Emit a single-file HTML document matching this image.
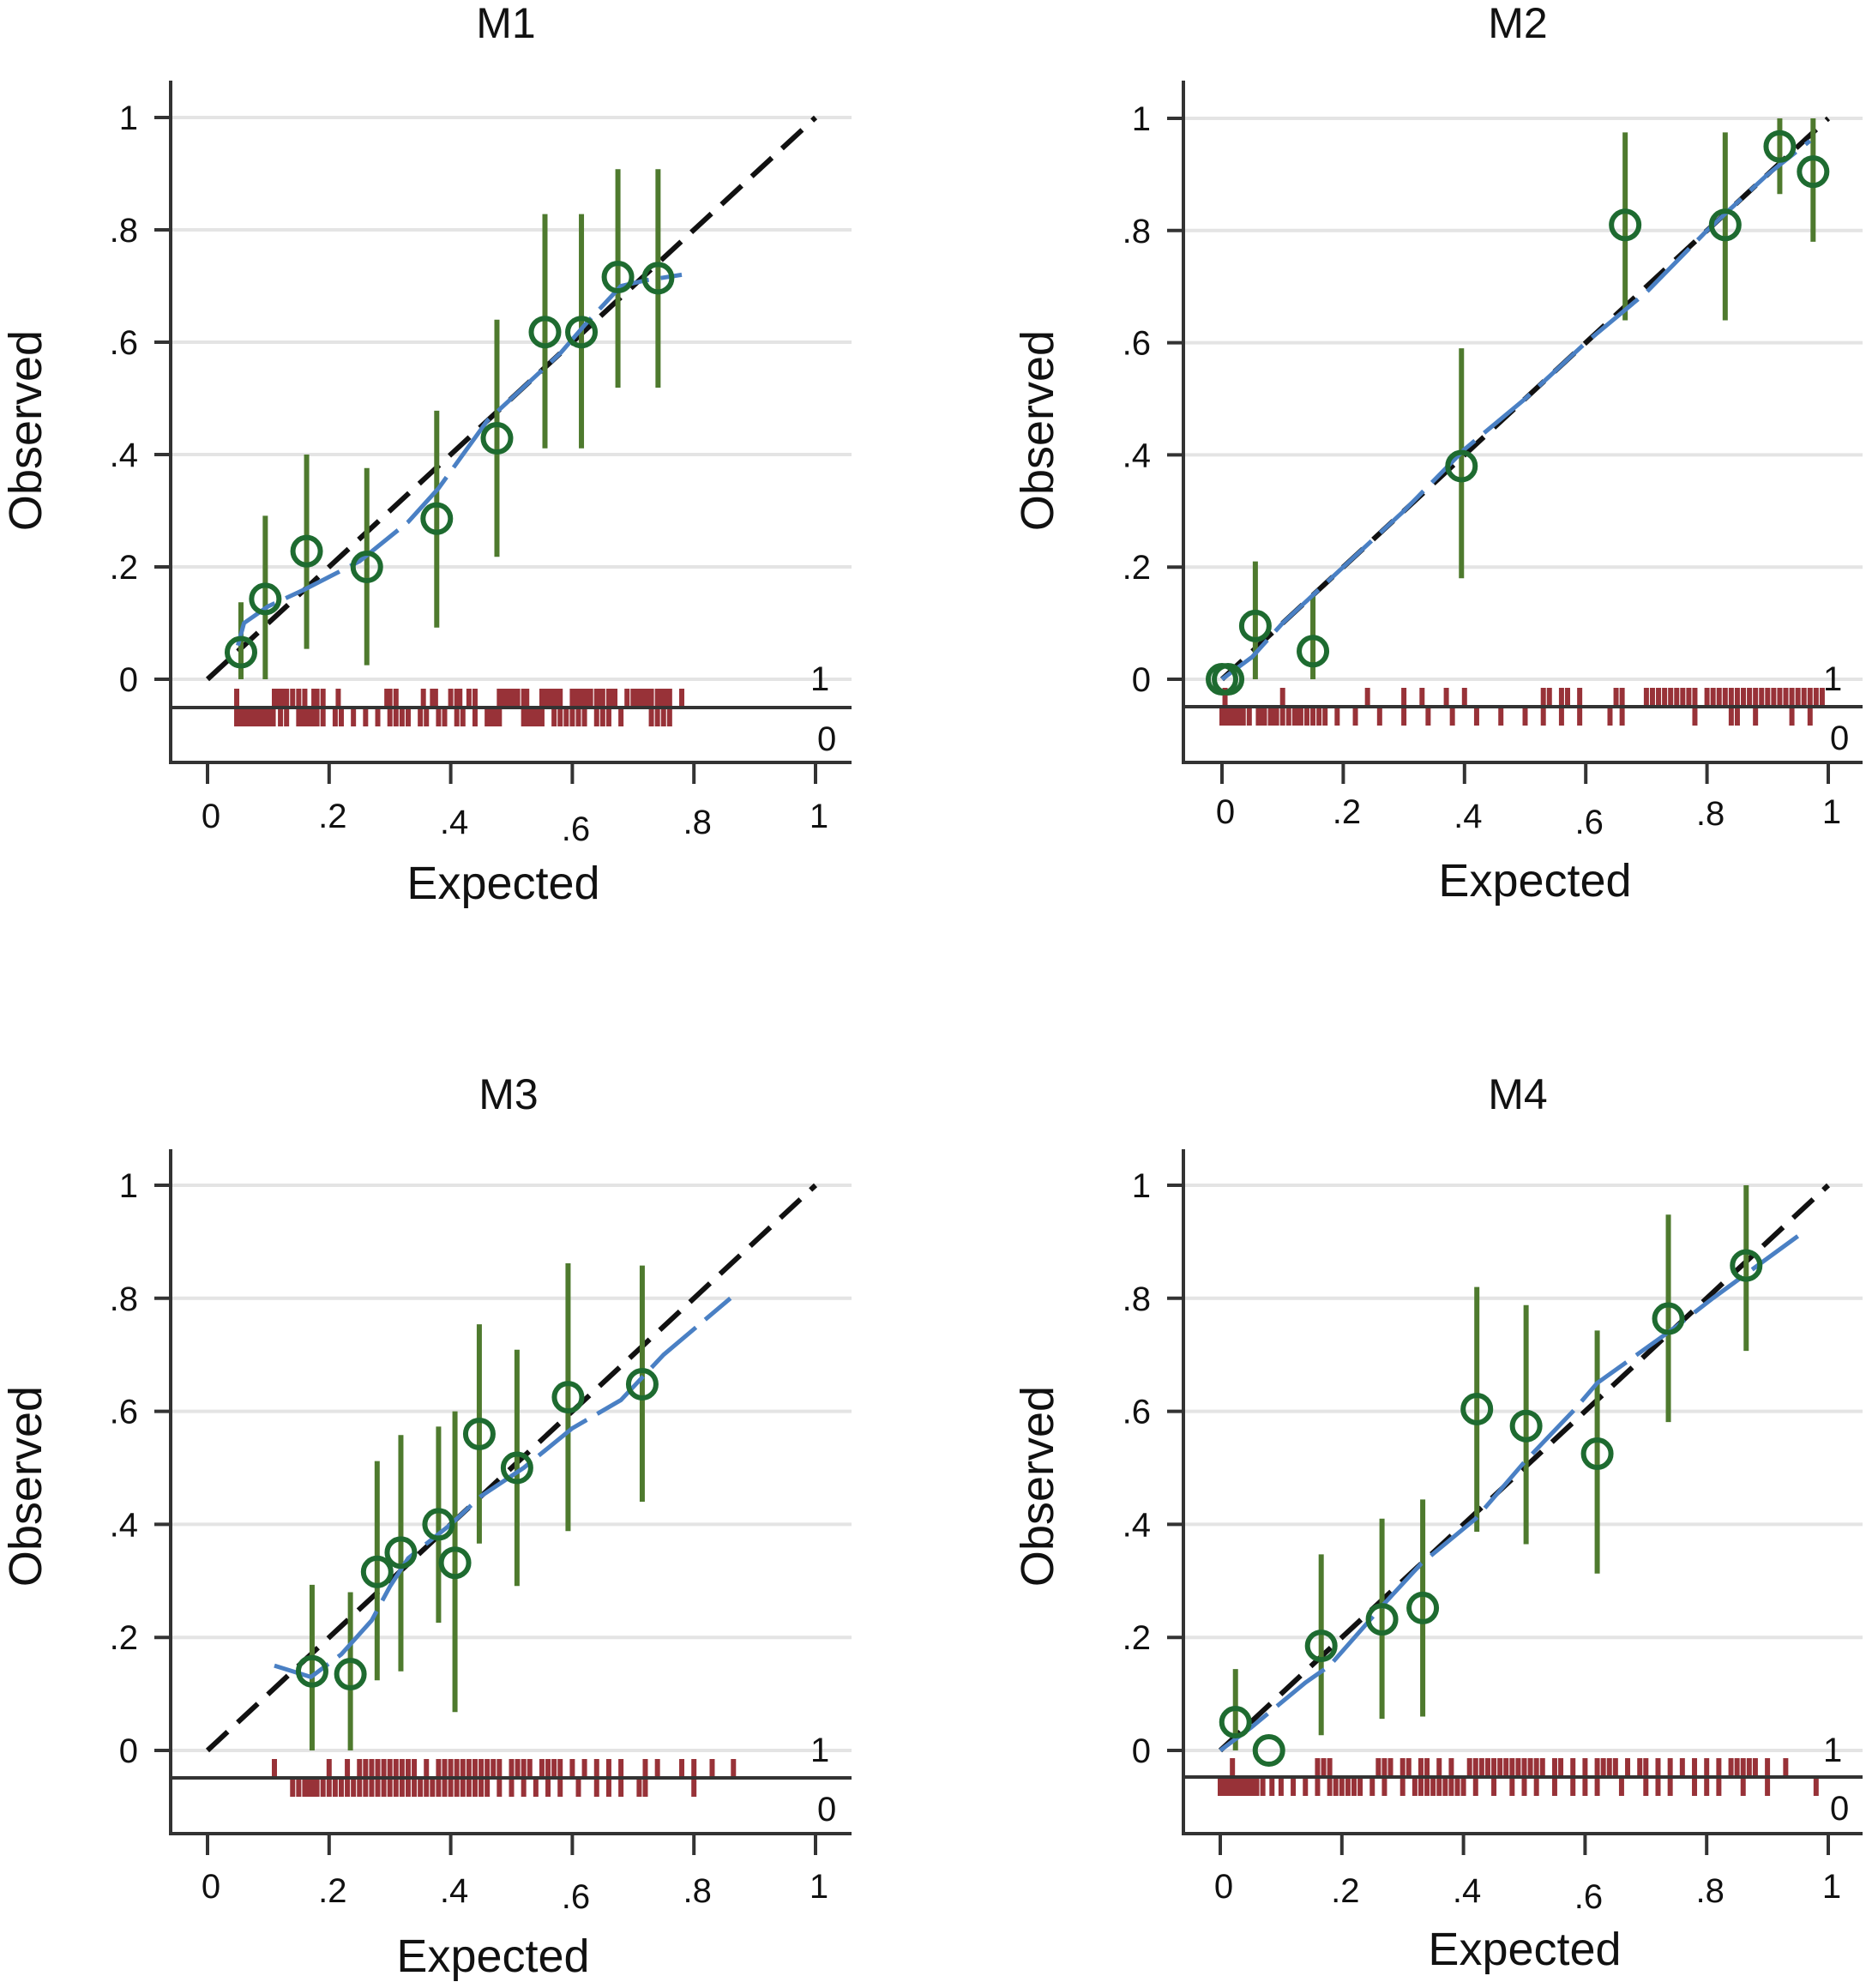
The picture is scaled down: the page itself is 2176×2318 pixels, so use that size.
<!DOCTYPE html>
<html><head><meta charset="utf-8"><style>
html,body{margin:0;padding:0;background:#fff}
svg{display:block}
text{font-family:"Liberation Sans",sans-serif;fill:#111}
</style></head><body>
<svg id="fig" width="2176" height="2318" viewBox="0 0 2176 2318" xmlns="http://www.w3.org/2000/svg"></svg>
<script>
// ---- data ----
const panelNames = ["M1","M2","M3","M4"];
const m1Expected = [.055,.095,.163,.262,.377,.476,.555,.615,.675,.741];
const m1Observed = [.048,.143,.228,.20,.286,.429,.618,.618,.716,.714];
const m1Low = [0,0,.054,.025,.092,.218,.411,.411,.519,.519];
const m1High = [.137,.291,.40,.376,.478,.64,.828,.828,.908,.908];
const m1SmoothX = [.05,.06,.10,.16,.25,.33,.38,.46,.52,.58,.62,.68,.72,.78];
const m1SmoothY = [.06,.10,.13,.16,.21,.28,.34,.46,.52,.58,.63,.70,.71,.72];
const m1RugOne = [.048,.11,.115,.12,.125,.13,.14,.15,.16,.175,.18,.19,.215,.295,.3,.31,.355,.37,.375,.4,.41,.415,.43,.44,.48,.485,.49,.495,.5,.505,.51,.52,.525,.55,.555,.56,.565,.57,.575,.58,.6,.605,.61,.615,.62,.625,.63,.64,.645,.65,.66,.665,.67,.69,.7,.705,.71,.715,.72,.725,.73,.74,.745,.75,.755,.76,.78];
const m1RugZero = [.048,.053,.058,.063,.068,.073,.078,.083,.088,.093,.098,.103,.108,.12,.13,.15,.155,.16,.165,.17,.175,.18,.19,.21,.22,.24,.26,.28,.3,.31,.32,.33,.35,.36,.38,.39,.41,.42,.44,.46,.465,.47,.475,.48,.52,.525,.53,.535,.54,.545,.55,.57,.58,.59,.6,.61,.62,.64,.65,.66,.68,.73,.74,.75,.76];

const m2Expected = [0,.01,.055,.15,.395,.665,.83,.92,.975];
const m2Observed = [0,0,.095,.05,.38,.81,.81,.95,.905];
const m2Low = [0,0,0,0,.18,.64,.64,.865,.78];
const m2High = [0,0,.21,.15,.59,.975,.975,1.0,1.0];
const m2SmoothX = [0,.05,.1,.2,.3,.4,.5,.6,.7,.8,.9,.97];
const m2SmoothY = [0,.04,.1,.2,.3,.41,.5,.6,.69,.8,.9,.96];
const m2RugOne = [.005,.1,.24,.3,.33,.37,.4,.53,.54,.56,.57,.59,.65,.66,.7,.71,.72,.73,.74,.75,.76,.77,.78,.8,.81,.82,.83,.84,.85,.86,.87,.88,.89,.9,.91,.92,.93,.94,.95,.96,.97,.98,.99];
const m2RugZero = [0,.005,.01,.015,.02,.025,.03,.035,.045,.06,.065,.07,.08,.085,.09,.1,.11,.12,.125,.13,.14,.15,.16,.17,.19,.22,.26,.3,.34,.38,.42,.46,.5,.53,.56,.59,.64,.66,.78,.84,.85,.88,.94,.97];

const m3Expected = [.172,.235,.279,.318,.38,.407,.447,.509,.593,.715];
const m3Observed = [.14,.135,.316,.35,.40,.332,.56,.50,.625,.648];
const m3Low = [0,0,.124,.14,.226,.068,.366,.291,.388,.44];
const m3High = [.293,.28,.512,.558,.573,.60,.754,.709,.862,.858];
const m3SmoothX = [.11,.17,.22,.27,.30,.33,.40,.45,.52,.60,.68,.75,.86];
const m3SmoothY = [.15,.13,.17,.23,.29,.34,.40,.45,.50,.57,.62,.70,.80];
const m3RugOne = [.11,.2,.23,.25,.26,.27,.28,.29,.3,.31,.32,.33,.34,.36,.38,.39,.4,.41,.42,.43,.44,.45,.46,.47,.48,.5,.51,.52,.53,.55,.56,.57,.58,.6,.62,.64,.66,.68,.72,.74,.78,.8,.83,.865];
const m3RugZero = [.14,.15,.16,.165,.17,.175,.18,.19,.2,.21,.22,.23,.24,.25,.26,.27,.28,.29,.3,.31,.32,.33,.34,.35,.36,.37,.38,.39,.4,.41,.42,.43,.44,.45,.46,.48,.5,.52,.54,.56,.58,.61,.64,.66,.68,.71,.72,.8];

const m4Expected = [.025,.08,.166,.266,.333,.422,.503,.62,.737,.865];
const m4Observed = [.05,0,.185,.232,.252,.604,.574,.525,.764,.858];
const m4Low = [0,0,.027,.056,.06,.387,.365,.313,.581,.707];
const m4High = [.144,0,.347,.41,.444,.82,.788,.743,.948,1.0];
const m4SmoothX = [0,.05,.14,.18,.27,.33,.42,.5,.58,.62,.75,.81,.95];
const m4SmoothY = [0,.04,.12,.15,.26,.33,.41,.51,.60,.65,.75,.80,.91];
const m4RugOne = [.02,.16,.17,.18,.26,.27,.28,.3,.31,.33,.34,.36,.38,.41,.42,.43,.44,.45,.46,.47,.48,.49,.5,.51,.52,.53,.55,.56,.58,.6,.62,.63,.64,.65,.67,.69,.7,.72,.74,.76,.78,.8,.82,.84,.85,.86,.87,.88,.9,.93];
const m4RugZero = [0,.005,.01,.015,.02,.025,.03,.035,.04,.045,.05,.055,.06,.07,.085,.1,.12,.14,.16,.18,.19,.2,.21,.22,.23,.25,.27,.3,.32,.33,.34,.35,.36,.37,.38,.39,.4,.42,.45,.48,.5,.52,.55,.58,.6,.62,.66,.7,.72,.74,.78,.8,.82,.86,.9,.98];

const yTickVals = [0,.2,.4,.6,.8,1];
const yTickLabels = ["0",".2",".4",".6",".8","1"];
const xTickVals = [0,.2,.4,.6,.8,1];
const xTickLabels = ["0",".2",".4",".6",".8","1"];

const panelData = [
 {ex:m1Expected,ob:m1Observed,lo:m1Low,hi:m1High,sx:m1SmoothX,sy:m1SmoothY,r1:m1RugOne,r0:m1RugZero},
 {ex:m2Expected,ob:m2Observed,lo:m2Low,hi:m2High,sx:m2SmoothX,sy:m2SmoothY,r1:m2RugOne,r0:m2RugZero},
 {ex:m3Expected,ob:m3Observed,lo:m3Low,hi:m3High,sx:m3SmoothX,sy:m3SmoothY,r1:m3RugOne,r0:m3RugZero},
 {ex:m4Expected,ob:m4Observed,lo:m4Low,hi:m4High,sx:m4SmoothX,sy:m4SmoothY,r1:m4RugOne,r0:m4RugZero}
];
// layout (not data)
const layouts = [
 {ax:199,x0:242,xs:709,y0:792,ys:655,top:94,sep:825,bot:889,right:993,tx:590,ty:44,lx:30,ly:502,ex:587,ey:1048,xlb:[965,965,972,980,972,965]},
 {ax:1380,x0:1425,xs:707,y0:792,ys:654,top:94,sep:824,bot:889,right:2172,tx:1770,ty:44,lx:1210,ly:502,ex:1790,ey:1045,xlb:[960,960,965,972,962,960]},
 {ax:199,x0:242,xs:709,y0:2041,ys:659,top:1340,sep:2073,bot:2138,right:993,tx:593,ty:1293,lx:30,ly:1733,ex:575,ey:2299,xlb:[2213,2218,2218,2225,2218,2213]},
 {ax:1380,x0:1423,xs:709,y0:2041,ys:659,top:1340,sep:2072,bot:2138,right:2172,tx:1770,ty:1293,lx:1210,ly:1733,ex:1778,ey:2291,xlb:[2213,2218,2218,2225,2218,2213]}
];
const NS="http://www.w3.org/2000/svg";
const svg=document.getElementById('fig');
function mk(tag,attrs,parent){const e=document.createElementNS(NS,tag);for(const k in attrs)e.setAttribute(k,attrs[k]);parent.appendChild(e);return e;}

panelData.forEach((d,i)=>{
 const L=layouts[i];
 const X=v=>L.x0+v*L.xs, Y=v=>L.y0-v*L.ys;
 const g=mk('g',{},svg);
 
 
 yTickVals.forEach((v,k)=>{
  const gl=mk('line',{x1:L.ax,x2:L.right,y1:Y(v),y2:Y(v),stroke:'#e4e4e4','stroke-width':4},g);
  
  
  const tk=mk('line',{x1:L.ax-19,x2:L.ax,y1:Y(v),y2:Y(v),stroke:'#333','stroke-width':4},g);
  
  
  const t=mk('text',{x:L.ax-38,y:Y(v)+14,'text-anchor':'end','font-size':40},g);
  t.textContent=yTickLabels[k];
  
  
 });
 xTickVals.forEach((v,k)=>{
  const tk=mk('line',{x1:X(v),x2:X(v),y1:L.bot,y2:L.bot+25,stroke:'#333','stroke-width':4},g);
  
  
  const t=mk('text',{x:X(v)+4,y:L.xlb[k],'text-anchor':'middle','font-size':40},g);
  t.textContent=xTickLabels[k];
  
  
 });
 const ya=mk('line',{x1:L.ax,x2:L.ax,y1:L.top,y2:L.bot+2,stroke:'#333','stroke-width':4},g);
 
 
 const xa=mk('line',{x1:L.ax-2,x2:L.right,y1:L.bot,y2:L.bot,stroke:'#333','stroke-width':4},g);
 
 
 d.r1.forEach(v=>{
  const r=mk('line',{x1:X(v),x2:X(v),y1:L.sep-22,y2:L.sep,stroke:'#983238','stroke-width':6},g);
  
  
 });
 d.r0.forEach(v=>{
  const r=mk('line',{x1:X(v),x2:X(v),y1:L.sep,y2:L.sep+22,stroke:'#983238','stroke-width':6},g);
  
  
 });
 const sp=mk('line',{x1:L.ax,x2:L.right,y1:L.sep,y2:L.sep,stroke:'#333','stroke-width':4},g);
 
 
 const r1=mk('text',{x:X(1)-6,y:L.y0+13,'font-size':40},g);
 r1.textContent='1';
 
 
 const r0=mk('text',{x:X(1)+2,y:L.sep+50,'font-size':40},g);
 r0.textContent='0';
 
 
 const dg=mk('line',{x1:X(0),y1:Y(0),x2:X(1),y2:Y(1),stroke:'#111','stroke-width':6,'stroke-dasharray':'32 16'},g);
 
 
 d.ex.forEach((v,k)=>{
  if(d.hi[k]>d.lo[k]){
   const e=mk('line',{x1:X(v),x2:X(v),y1:Y(d.lo[k]),y2:Y(d.hi[k]),stroke:'#4e7a2e','stroke-width':6},g);
   
   
  }
 });
 const pts=d.sx.map((v,k)=>X(v)+','+Y(d.sy[k])).join(' ');
 const sm=mk('polyline',{points:pts,fill:'none',stroke:'#4a80c4','stroke-width':5,'stroke-dasharray':'70 14','stroke-linejoin':'round'},g);
 
 
 d.ex.forEach((v,k)=>{
  const c=mk('circle',{cx:X(v),cy:Y(d.ob[k]),r:16,fill:'none',stroke:'#1e6b30','stroke-width':6},g);
  
  
 });
 const tt=mk('text',{x:L.tx,y:L.ty,'text-anchor':'middle','font-size':50},g);
 tt.textContent=panelNames[i];
 
 
 const yl=mk('text',{x:0,y:0,'text-anchor':'middle','font-size':54,transform:`translate(${L.lx+18},${L.ly}) rotate(-90)`},g);
 yl.textContent='Observed';
 
 
 const xl=mk('text',{x:L.ex,y:L.ey,'text-anchor':'middle','font-size':54},g);
 xl.textContent='Expected';
 
 
});
</script>
</body></html>
